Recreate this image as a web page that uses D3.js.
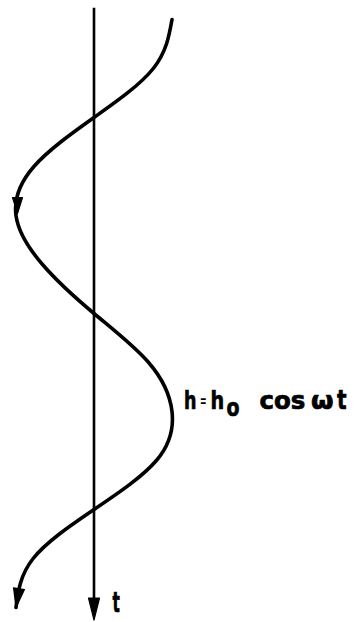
<!DOCTYPE html>
<html>
<head>
<meta charset="utf-8">
<script src="https://cdn.jsdelivr.net/npm/d3@7"></script>
<style>
  html, body { margin: 0; padding: 0; background: #fff; }
  svg { display: block; }
  .lbl { font-family: "DejaVu Sans", "Liberation Sans", Arial, sans-serif; font-weight: bold; fill: #000; stroke: #000; stroke-width: 0.7; stroke-linejoin: round; }
  .lbl.thin { stroke: none; }
</style>
</head>
<body>
<svg id="chart" width="362" height="622"></svg>
<script>
// Phase ωt in units of π (time runs downward) and h / h0 at each phase
const phase  = [0, 0.25, 0.5, 0.75, 1, 1.25, 1.5, 1.75, 2, 2.25, 2.5, 2.75, 3];
const hRatio = [1, 0.76, 0, -0.77, -1, -0.66, 0, 0.70, 1, 0.80, 0, -0.78, -1];

// Extent of the time axis (ωt / π), including its arrow tip
const timeAxisExtent = [-0.06, 3.064];
// Phase where the direction arrow sits on the curve
const midArrowPhase = 0.99;

// Equation pieces: h, =, h, subscript o, cos, ω, t
const equationParts = ["h", "=", "h", "o", "cos", "ω", "t"];
const timeLabel = "t";

const svg = d3.select("#chart");

const x = d3.scaleLinear().domain([-1, 1]).range([16, 172]);
const y = d3.scaleLinear().domain([0, 3]).range([19.5, 607.5]);

const points = phase.map((p, i) => ({ p, h: hRatio[i] }));

// Filled arrowhead with its tip at (tx, ty), pointing along (dx, dy)
function arrowHead(tx, ty, dx, dy, len, wid) {
  const n = Math.hypot(dx, dy);
  const ux = dx / n, uy = dy / n;
  const bx = tx - ux * len, by = ty - uy * len;
  const px = -uy * wid / 2, py = ux * wid / 2;
  svg.append("path")
    .attr("d", `M${tx},${ty}L${bx + px},${by + py}L${bx - px},${by - py}Z`)
    .attr("fill", "#000")
    .attr("stroke", "#000")
    .attr("stroke-width", 1.2)
    .attr("stroke-linejoin", "round");
}

// Time axis at h = 0
const axisX = x(0);
const axisTop = y(timeAxisExtent[0]);
const axisTip = y(timeAxisExtent[1]);
svg.append("line")
  .attr("x1", axisX).attr("x2", axisX)
  .attr("y1", axisTop).attr("y2", axisTip - 12)
  .attr("stroke", "#000").attr("stroke-width", 2.6);
arrowHead(axisX, axisTip, 0, 1, 22, 11);

// Oscillation curve h(t)
const line = d3.line()
  .x(d => x(d.h))
  .y(d => y(d.p))
  .curve(d3.curveNatural);

const curve = svg.append("path")
  .datum(points)
  .attr("d", line)
  .attr("fill", "none")
  .attr("stroke", "#000")
  .attr("stroke-width", 3.6)
  .attr("stroke-linecap", "round");

// Arrowhead at the end of the curve
const node = curve.node();
const total = node.getTotalLength();
const endPt = node.getPointAtLength(total);
const prePt = node.getPointAtLength(total - 19);
arrowHead(endPt.x, endPt.y, endPt.x - prePt.x, endPt.y - prePt.y, 19, 11);

// Direction arrow on the curve near the left extreme
arrowHead(x(-1) + 1.5, y(midArrowPhase), 0, 1, 16, 10);

// Equation label beside the right extreme: [x, baseline, size, horizontal scale, stroked] per piece
const partLayout = [
  [184, 408.7, 24, 0.73, true],
  [200, 405.5, 15, 0.52, false],
  [210.5, 408.7, 24, 0.80, true],
  [226.5, 416.3, 24, 0.79, true],
  [259.5, 408.7, 24, 1.02, true],
  [311, 408.7, 24, 1.08, true],
  [337, 408.7, 26, 0.77, true]
];
equationParts.forEach((txt, i) => {
  const [px, py, fs, sx, stroked] = partLayout[i];
  svg.append("text").attr("class", stroked ? "lbl" : "lbl thin")
    .attr("transform", `translate(${px},${py}) scale(${sx},1)`)
    .attr("font-size", fs)
    .text(txt);
});

// Time axis label
svg.append("text").attr("class", "lbl")
  .attr("transform", "translate(112.5,611.5) scale(0.55,1)")
  .attr("font-size", 28)
  .text(timeLabel);
</script>
</body>
</html>
